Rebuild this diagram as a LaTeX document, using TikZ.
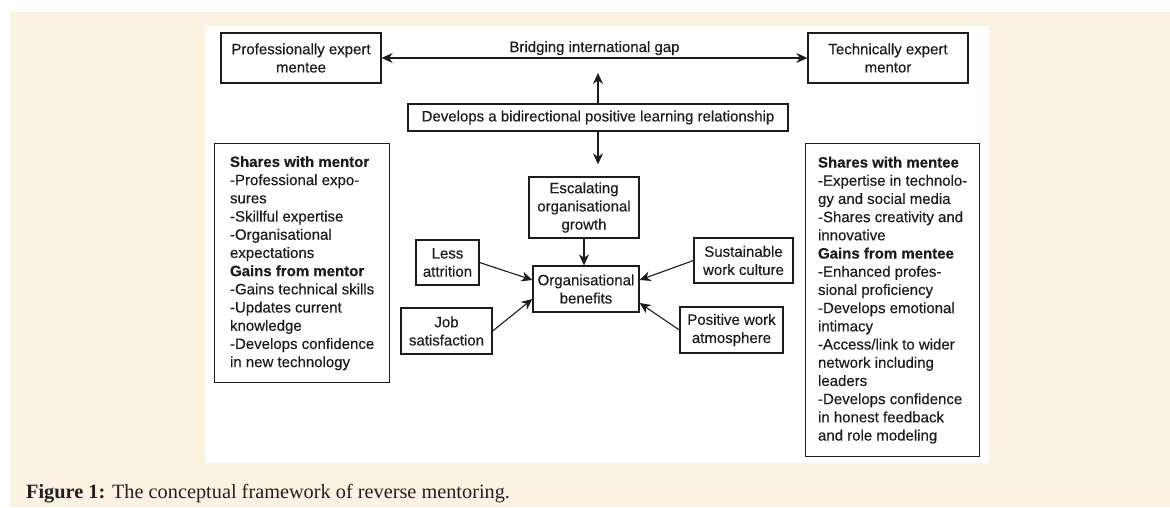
\documentclass[tikz,border=0pt]{standalone}
\usepackage{fontspec}
\setmainfont{Liberation Sans}[FakeBold=0.35]
\newfontfamily\capfont{Liberation Serif}
\usetikzlibrary{arrows.meta}

\definecolor{cream}{RGB}{252,242,226}
\definecolor{ink}{RGB}{28,28,28}

\tikzset{
    box/.style={draw=ink, line width=1.3pt, text=ink, align=center, inner sep=0pt,
        font=\fontsize{15}{18.2}\selectfont},
    listbox/.style={box, align=left, anchor=north west},
    link/.style={draw=ink, line width=1.1pt},
}
\newcommand{\hd}[1]{{\bfseries #1}}

\begin{document}
\begin{tikzpicture}[x=1pt, y=-1pt, >={Stealth[length=11pt, width=10pt, inset=3.5pt]}]
    \useasboundingbox (0,0) rectangle (1170,507);
    \fill[white] (0,0) rectangle (1170,507);
    \fill[cream] (10,12) rectangle (1170,507);
    \fill[white] (205,26) rectangle (989,463);

    % top row
    \node[box, minimum width=160pt, minimum height=50pt] (mentee) at (301,58) {Professionally expert\\mentee};
    \node[box, minimum width=160pt, minimum height=50pt] (mentor) at (888,58) {Technically expert\\mentor};
    \node[box, minimum width=380pt, minimum height=27pt] (develops) at (598,117.5) {Develops a bidirectional positive learning relationship};

    % centre
    \node[box, minimum width=110pt, minimum height=61pt] (growth) at (584,207.5) {Escalating\\organisational\\growth};
    \node[box, minimum width=106pt, minimum height=46pt] (benefits) at (586,289) {Organisational\\benefits};
    \node[box, minimum width=63pt, minimum height=45pt] (attrition) at (447.5,262.5) {Less\\attrition};
    \node[box, minimum width=91pt, minimum height=46pt] (jobsat) at (446.5,331) {Job\\satisfaction};
    \node[box, minimum width=99pt, minimum height=45pt] (culture) at (743.5,260.5) {Sustainable\\work culture};
    \node[box, minimum width=103pt, minimum height=46pt] (atmos) at (731.5,330) {Positive work\\atmosphere};

    % side lists
    \node[listbox, minimum width=175pt, minimum height=239pt] (menteelist) at (214,143) {\hd{Shares with mentor}\\-Professional expo-\\sures\\-Skillful expertise\\-Organisational\\expectations\\\hd{Gains from mentor}\\-Gains technical skills\\-Updates current\\knowledge\\-Develops confidence\\in new technology};
    \node[listbox, minimum width=174pt, minimum height=313pt] (mentorlist) at (805,143) {\hd{Shares with mentee}\\-Expertise in technolo-\\gy and social media\\-Shares creativity and\\innovative\\\hd{Gains from mentee}\\-Enhanced profes-\\sional proficiency\\-Develops emotional\\intimacy\\-Access/link to wider\\network including\\leaders\\-Develops confidence\\in honest feedback\\and role modeling};

    \draw[link, <->] (mentee) -- (mentor) node [midway, above=-1pt, text=ink, font=\fontsize{15}{18}\selectfont] {Bridging international gap};
    \draw[link, ->, shorten >=15pt] (develops) -- (develops |- mentee.east);
    \draw[link, ->, shorten >=12pt] (develops) -- (develops |- growth.north);
    \draw[link, ->] (growth) -- (growth |- benefits.north);
    \draw[link, ->] (attrition.east) -- ([yshift=9pt]benefits.west);
    \draw[link, ->] (jobsat.east) -- ([yshift=-10pt]benefits.west);
    \draw[link, ->] (culture.west) -- ([yshift=9pt]benefits.east);
    \draw[link, ->] (atmos.west) -- ([yshift=-14pt]benefits.east);

    \node[anchor=base west, inner sep=0pt, text={rgb,255:red,35;green,31;blue,32}, font=\capfont\fontsize{20.3}{24}\selectfont] (caption) at (26,498) {\textbf{Figure 1:} The conceptual framework of reverse mentoring.};
\end{tikzpicture}
\end{document}
